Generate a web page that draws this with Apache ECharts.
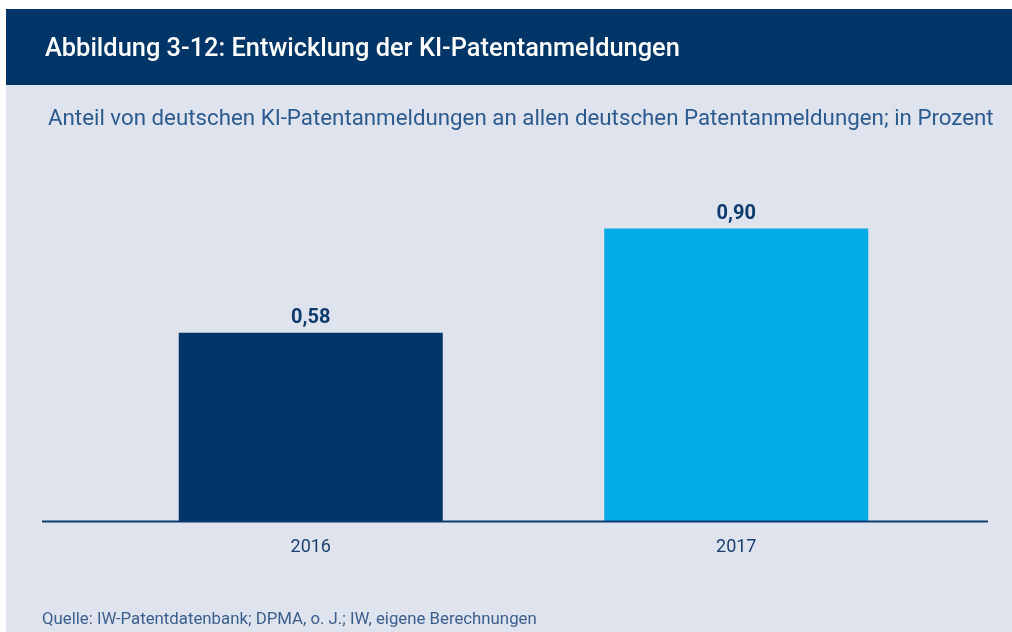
<!DOCTYPE html>
<html>
<head>
<meta charset="utf-8">
<script src="https://cdn.jsdelivr.net/npm/echarts@6/dist/echarts.min.js"></script>
<style>
html,body{margin:0;padding:0;background:#ffffff;}
#chart{width:1012px;height:632px;}
</style>
</head>
<body>
<div id="chart"></div>
<script>
const categories = ['2016', '2017'];
const values = [0.58, 0.90];
const barColors = ['#003567', '#00abe6'];
const titleText = 'Abbildung 3-12: Entwicklung der KI-Patentanmeldungen';
const subtitleText = 'Anteil von deutschen KI-Patentanmeldungen an allen deutschen Patentanmeldungen; in Prozent';
const sourceText = 'Quelle: IW-Patentdatenbank; DPMA, o. J.; IW, eigene Berechnungen';

const chart = echarts.init(document.getElementById('chart'), null, {renderer: 'canvas'});
const option = {
  backgroundColor: '#ffffff',
  animation: false,
  graphic: [
    {type: 'rect', z: -10, shape: {x: 6, y: 9, width: 1006, height: 623}, style: {fill: '#dfe3ee'}},
    {type: 'rect', z: -9, shape: {x: 6, y: 9, width: 1006, height: 76}, style: {fill: '#003567'}},
    {type: 'line', z: 10, shape: {x1: 42, y1: 521.5, x2: 988, y2: 521.5}, style: {stroke: '#0d3b6e', lineWidth: 2}}
  ],
  title: [
    {text: titleText, left: 45, top: 37, padding: 0, textStyle: {color: '#ffffff', fontFamily: 'Roboto', fontWeight: 500, fontSize: 25.4}},
    {text: subtitleText, left: 48, top: 108, padding: 0, textStyle: {color: '#2c5b8f', fontFamily: 'Roboto', fontWeight: 'normal', fontSize: 22.3}},
    {text: sourceText, left: 42, top: 611, padding: 0, textStyle: {color: '#3b5f8c', fontFamily: 'Roboto', fontWeight: 'normal', fontSize: 16.8}}
  ],
  grid: {left: 98, right: 63, top: 196, bottom: 110.5, containLabel: false},
  xAxis: {
    type: 'category',
    data: categories,
    axisLine: {show: false},
    axisTick: {show: false},
    axisLabel: {color: '#1a3f6e', fontFamily: 'Roboto', fontSize: 18, margin: 17}
  },
  yAxis: {
    type: 'value',
    min: 0,
    max: 1,
    show: false,
    splitLine: {show: false}
  },
  series: [{
    type: 'bar',
    barWidth: 264,
    data: values.map((v, i) => ({value: v, itemStyle: {color: barColors[i]}})),
    label: {
      show: true,
      position: 'top',
      distance: 5,
      color: '#0d3b6e',
      fontFamily: 'Roboto',
      fontWeight: 'bold',
      fontSize: 20,
      formatter: p => p.value.toFixed(2).replace('.', ',')
    }
  }]
};
chart.setOption(option);
</script>
</body>
</html>
